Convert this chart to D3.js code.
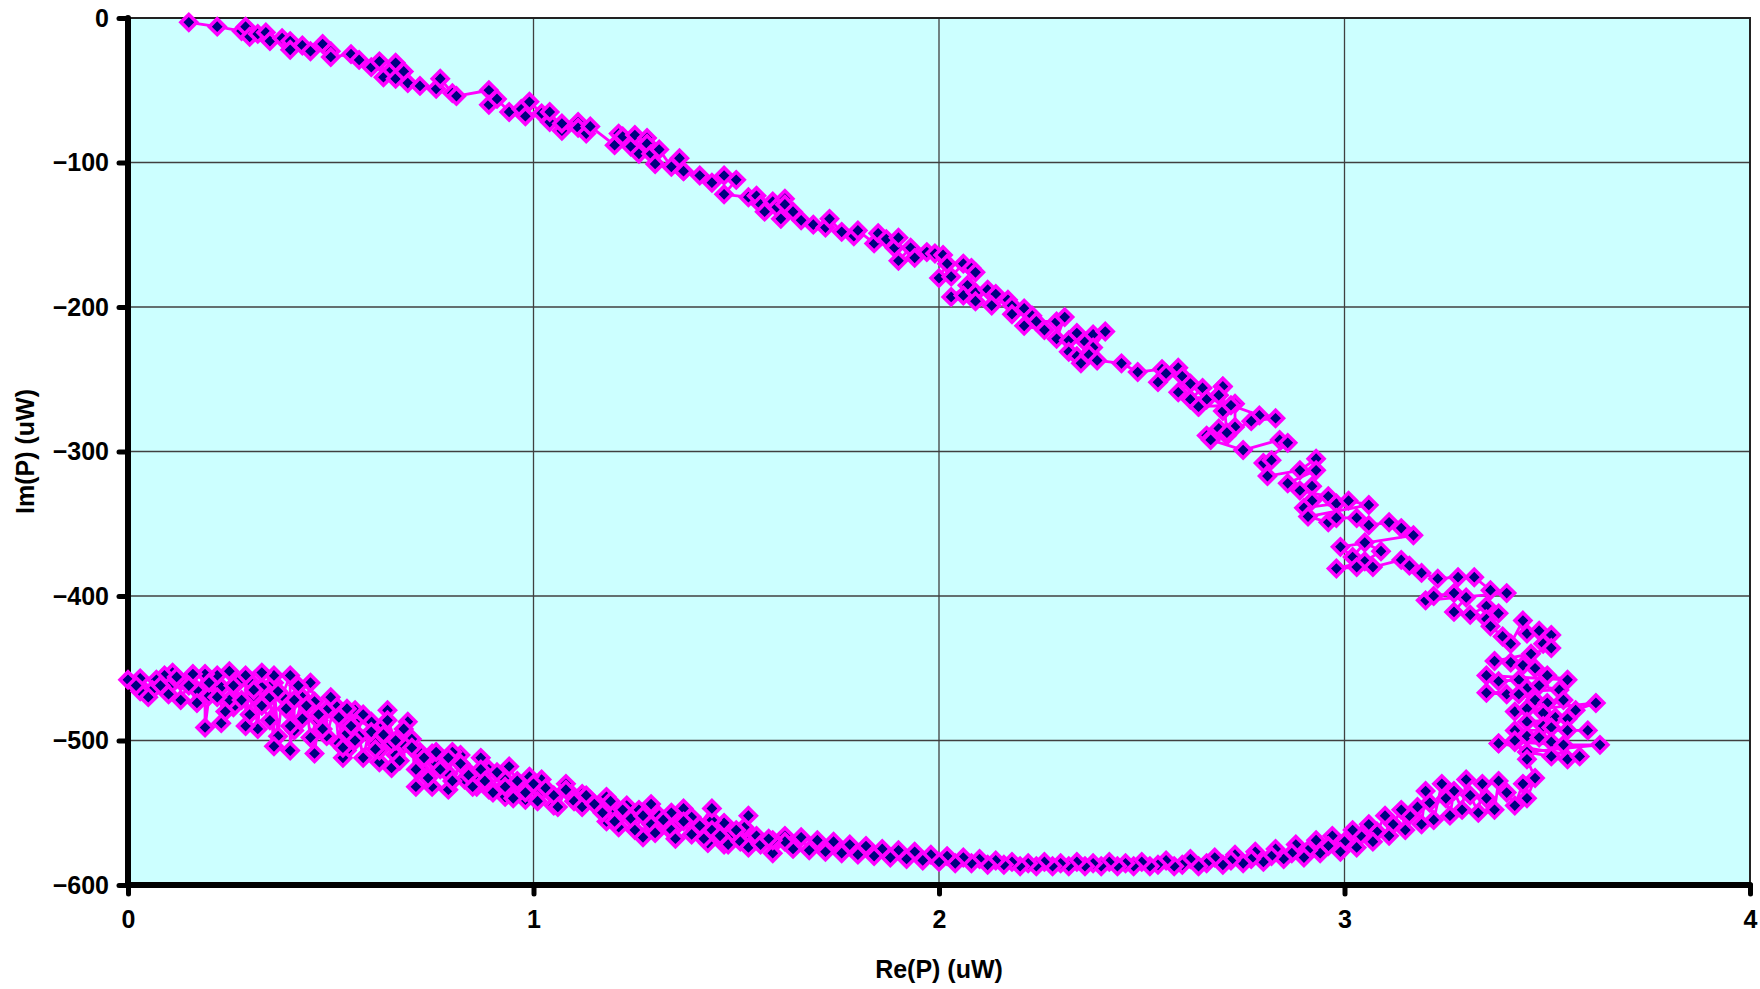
<!DOCTYPE html>
<html><head><meta charset="utf-8">
<script src="https://cdn.jsdelivr.net/npm/d3@7"></script>
<style>html,body{margin:0;padding:0;background:#fff;}svg{display:block;}</style>
</head><body>
<svg id="c" width="1760" height="989"></svg>
<script>
// ---- data ----
const xTicks = [0, 1, 2, 3, 4];
const yTicks = [0, -100, -200, -300, -400, -500, -600];
const xTitle = "Re(P) (uW)";
const yTitle = "Im(P) (uW)";

// upper branch, part 1
const reA = [0.15,0.22,0.28,0.29,0.30,0.32,0.34,0.35,0.38,0.40,0.40,0.43,0.45,0.48,0.50,0.50,0.55,0.57,0.60,0.62,0.63,0.65,0.66,0.66,0.68,0.69,0.72,0.76,0.77,0.80,0.81,0.89,0.89,0.91,0.94,0.97,0.98,0.99,1.02,1.04,1.04,1.07,1.07,1.11,1.11,1.13,1.14,1.20,1.21,1.22,1.24,1.25,1.26,1.28,1.28,1.29,1.30,1.31,1.34,1.36,1.37];
const imA = [-3,-6,-9,-6,-13,-11,-10,-16,-14,-16,-22,-19,-23,-18,-23,-27,-25,-29,-34,-30,-41,-36,-31,-42,-37,-45,-47,-49,-42,-52,-54,-50,-60,-56,-65,-63,-68,-58,-66,-72,-65,-78,-73,-72,-76,-80,-75,-88,-80,-82,-89,-81,-94,-83,-87,-94,-101,-91,-103,-97,-106];

// upper branch, part 2
const reB = [1.37,1.41,1.44,1.47,1.50,1.47,1.53,1.55,1.56,1.57,1.59,1.60,1.62,1.62,1.61,1.64,1.66,1.69,1.72,1.73,1.76,1.79,1.80,1.84,1.85,1.87,1.89,1.90,1.90,1.93,1.94,1.97,1.99,2.01,2.02,2.00,2.03,2.06,2.08,2.09,2.07,2.03,2.06,2.09,2.09,2.12,2.14,2.13,2.17,2.18,2.18,2.21,2.23,2.21,2.26,2.24,2.29,2.31,2.29,2.32,2.34,2.32,2.34,2.35,2.36,2.38,2.41,2.38,2.37,2.39,2.45,2.49,2.55,2.56,2.54,2.59,2.60,2.59,2.62,2.65,2.62,2.64,2.66,2.69,2.70,2.70,2.73,2.73,2.69,2.66,2.67,2.71];
const imB = [-106,-109,-114,-109,-112,-122,-124,-123,-129,-134,-127,-131,-125,-129,-139,-134,-140,-143,-145,-139,-148,-151,-147,-156,-149,-153,-159,-152,-168,-159,-166,-162,-163,-164,-170,-180,-179,-170,-173,-176,-185,-193,-192,-190,-196,-188,-191,-199,-195,-199,-205,-201,-206,-213,-216,-210,-210,-207,-222,-223,-218,-231,-234,-239,-224,-219,-217,-228,-233,-237,-239,-245,-243,-246,-252,-242,-248,-259,-253,-256,-264,-269,-264,-261,-255,-272,-267,-283,-284,-289,-291,-289];

// right lobe
const reC = [2.70,2.69,2.64,2.72,2.79,2.83,2.77,2.71,2.67,2.75,2.84,2.86,2.80,2.82,2.81,2.89,2.93,2.93,2.86,2.92,2.89,2.96,2.92,2.90,2.98,3.01,3.06,2.91,2.96,2.98,3.03,3.06,3.11,3.14,3.17,2.99,3.02,3.05,3.09,3.05,2.98,3.03,3.07,3.14,3.16,3.19,3.23,3.28,3.32,3.36,3.40,3.20,3.22,3.27,3.30,3.27,3.31,3.35,3.35,3.38,3.36,3.39,3.41,3.44,3.45,3.48,3.51,3.49,3.51,3.46,3.37,3.41,3.44,3.47,3.50,3.55,3.35,3.38,3.43,3.45,3.48,3.53,3.35,3.40,3.43,3.47,3.50,3.54,3.57,3.62,3.42,3.45,3.49,3.52,3.55,3.45,3.49,3.51,3.55,3.60,3.42,3.45,3.48,3.51,3.38,3.42,3.54,3.63,3.45,3.51,3.55,3.58];
const imC = [-255,-261,-269,-268,-275,-277,-279,-287,-292,-299,-292,-294,-308,-306,-317,-313,-305,-313,-322,-324,-327,-331,-334,-339,-336,-334,-337,-345,-349,-346,-346,-351,-349,-353,-358,-366,-373,-363,-369,-376,-381,-380,-380,-375,-379,-384,-388,-387,-387,-396,-398,-403,-400,-398,-401,-411,-413,-407,-416,-412,-421,-428,-433,-417,-426,-424,-427,-433,-436,-440,-445,-446,-448,-450,-455,-458,-455,-459,-458,-464,-462,-465,-467,-468,-468,-472,-474,-472,-479,-474,-480,-478,-481,-484,-485,-487,-490,-491,-493,-493,-493,-497,-498,-501,-502,-501,-503,-503,-508,-511,-513,-511];

// bottom arc
const reD = [3.38,3.42,3.45,3.47,3.45,3.44,3.42,3.40,3.38,3.37,3.35,3.34,3.33,3.31,3.30,3.29,3.27,3.26,3.25,3.24,3.22,3.21,3.20,3.19,3.18,3.16,3.15,3.14,3.12,3.11,3.10,3.08,3.07,3.06,3.04,3.03,3.02,3.00,2.99,2.97,2.96,2.94,2.93,2.91,2.90,2.88,2.87,2.85,2.83,2.82,2.80,2.78,2.77,2.75,2.73,2.72,2.70,2.68,2.66,2.64,2.62,2.60,2.58,2.56,2.54,2.52,2.50,2.48,2.46,2.44,2.42,2.40,2.38,2.36,2.34,2.32,2.30,2.28,2.26,2.24,2.22,2.20,2.18,2.16,2.14,2.12,2.10,2.08,2.06,2.04,2.02,2.00,1.98,1.96,1.94,1.92,1.90,1.88,1.86,1.84,1.82,1.80,1.78,1.76,1.74,1.72,1.70,1.68,1.66,1.64,1.62];
const imD = [-502,-500,-513,-526,-540,-530,-545,-536,-528,-548,-540,-530,-550,-538,-527,-548,-535,-552,-540,-530,-555,-543,-535,-558,-546,-552,-562,-548,-558,-566,-552,-563,-570,-558,-566,-574,-562,-570,-577,-566,-573,-578,-569,-576,-581,-572,-578,-582,-575,-580,-584,-577,-582,-585,-579,-583,-586,-581,-585,-587,-582,-586,-587,-583,-586,-587,-584,-587,-585,-587,-584,-587,-585,-587,-584,-587,-585,-587,-584,-587,-585,-587,-584,-586,-583,-586,-582,-585,-581,-585,-580,-584,-579,-583,-577,-582,-576,-581,-575,-580,-573,-579,-572,-578,-570,-577,-569,-576,-567,-575,-566];

// lower-left cluster, going left
const reE = [1.59,1.62,1.59,1.54,1.52,1.53,1.49,1.47,1.47,1.43,1.44,1.44,1.40,1.39,1.37,1.36,1.33,1.34,1.31,1.27,1.29,1.26,1.23,1.21,1.20,1.18,1.18,1.14,1.12,1.09,1.08,1.05,1.02,1.02,0.99,0.98,0.97,0.94,0.93,0.93,0.89,0.89,0.87,0.86,0.86,0.83,0.83,0.82,0.80,0.79,0.79,0.76,0.75,0.75,0.72,0.72,0.71,0.70,0.69,0.68,0.66,0.65,0.65,0.64,0.63,0.62,0.62,0.61,0.60,0.58,0.57,0.57,0.56,0.54,0.54,0.54,0.54,0.53,0.52,0.51,0.49,0.49,0.47,0.46,0.46,0.45,0.43,0.43,0.41,0.41,0.40,0.40,0.38,0.37,0.36,0.36,0.36,0.35,0.33,0.33,0.32,0.31,0.30,0.29,0.29,0.27,0.26,0.25,0.25,0.23,0.23,0.22,0.20,0.19,0.19,0.17,0.16,0.13,0.13,0.11,0.10,0.09,0.07,0.06,0.03,0.03,0.00];
const imE = [-578,-570,-569,-567,-560,-552,-564,-572,-557,-571,-555,-547,-562,-553,-547,-557,-560,-550,-552,-567,-544,-548,-545,-560,-550,-556,-539,-541,-537,-536,-530,-545,-535,-527,-525,-541,-534,-518,-539,-527,-534,-520,-512,-532,-525,-527,-519,-510,-508,-534,-523,-516,-532,-509,-508,-519,-532,-499,-487,-503,-510,-502,-519,-479,-489,-515,-507,-502,-487,-512,-497,-484,-479,-507,-488,-495,-478,-512,-502,-475,-497,-479,-486,-509,-473,-460,-485,-470,-493,-472,-507,-455,-469,-497,-460,-455,-504,-470,-463,-453,-492,-469,-459,-490,-455,-460,-477,-452,-472,-488,-463,-455,-469,-491,-454,-465,-454,-472,-459,-453,-463,-455,-458,-465,-457,-466,-458];

// lower-left cluster, going right again
const reF = [0.02,0.05,0.08,0.10,0.12,0.15,0.17,0.20,0.22,0.24,0.26,0.28,0.30,0.31,0.33,0.35,0.37,0.39,0.40,0.42,0.44,0.45,0.47,0.48,0.50,0.52,0.53,0.55,0.56,0.58,0.60,0.61,0.63,0.64,0.66,0.67,0.68,0.70,0.71,0.73,0.74,0.76,0.77,0.79,0.80,0.82,0.84,0.85,0.87,0.88,0.90,0.91,0.93,0.95,0.96,0.98,1.00,1.01,1.03,1.05,1.06,1.08,1.10,1.12,1.13,1.15,1.17,1.19,1.20,1.22,1.24,1.25,1.27,1.29,1.30,1.32,1.34,1.35,1.37,1.39,1.41,1.42,1.44,1.46,1.48,1.50,1.51,1.53,1.55,1.56,1.58];
const imF = [-462,-470,-462,-468,-456,-462,-474,-460,-470,-480,-462,-472,-482,-465,-476,-486,-466,-478,-490,-462,-476,-498,-482,-492,-470,-484,-505,-490,-500,-482,-494,-506,-496,-486,-500,-514,-492,-505,-520,-512,-526,-508,-520,-512,-528,-516,-524,-532,-520,-528,-536,-522,-532,-540,-528,-536,-530,-542,-533,-538,-546,-534,-542,-546,-538,-544,-550,-542,-556,-548,-554,-562,-552,-558,-564,-555,-562,-568,-556,-565,-559,-568,-562,-566,-572,-562,-570,-574,-566,-572,-568];

// ---- build the series ----
const segs = [[reA, imA], [reB, imB], [reC, imC], [reD, imD], [reE, imE], [reF, imF]];
const pts = [];
segs.forEach(([rx, iy]) => {
  const n = Math.min(rx.length, iy.length);
  for (let i = 0; i < n; i++) pts.push({ re: rx[i], im: iy[i] });
});

// ---- layout ----
const svg = d3.select("#c");
const L = 128, R = 1750, T = 18, B = 885;
const x = d3.scaleLinear().domain([0, 4]).range([L, R]);
const y = d3.scaleLinear().domain([-600, 0]).range([B, T]);
const font = "'Liberation Sans', Arial, sans-serif";

svg.append("rect").attr("x", L).attr("y", T).attr("width", R - L).attr("height", B - T).attr("fill", "#CCFFFF");

// gridlines
svg.append("g").selectAll("line").data(yTicks.filter(v => v > -600 && v < 0)).join("line")
  .attr("x1", L).attr("x2", R).attr("y1", d => y(d)).attr("y2", d => y(d))
  .attr("stroke", "#404040").attr("stroke-width", 1.3);
svg.append("g").selectAll("line").data(xTicks.filter(v => v > 0 && v < 4)).join("line")
  .attr("y1", T).attr("y2", B).attr("x1", d => x(d)).attr("x2", d => x(d))
  .attr("stroke", "#404040").attr("stroke-width", 1.3);

// top & right border
svg.append("path").attr("d", `M${L},${T}H${R}V${B}`).attr("fill", "none").attr("stroke", "#222").attr("stroke-width", 2);

// axes (thick)
const yAxis = d3.axisLeft(y).tickValues(yTicks).tickSize(9).tickPadding(10).tickFormat(d3.format("d"));
const xAxis = d3.axisBottom(x).tickValues(xTicks).tickSize(9).tickPadding(16).tickFormat(d3.format("d"));
const gy = svg.append("g").attr("transform", `translate(${L},0)`).call(yAxis);
const gx = svg.append("g").attr("transform", `translate(0,${B})`).call(xAxis);
[gx, gy].forEach(g => {
  g.select(".domain").attr("stroke", "#000").attr("stroke-width", 6).attr("stroke-linecap", "round");
  g.selectAll(".tick line").attr("stroke", "#000").attr("stroke-width", 5).attr("stroke-linecap", "round");
  g.selectAll(".tick text").attr("fill", "#000").attr("font-family", font).attr("font-weight", "bold").attr("font-size", 25);
});
gy.select(".domain").attr("d", `M0,${T}V${B}`);
gx.select(".domain").attr("d", `M${L},0H${R}`);
gx.selectAll(".tick text").attr("dy", "0.71em");

// line
const line = d3.line().x(d => x(d.re)).y(d => y(d.im));
svg.append("path").datum(pts).attr("d", line).attr("fill", "none")
  .attr("stroke", "#FF00FF").attr("stroke-width", 2.8).attr("stroke-linejoin", "round");

// markers
const sym = d3.symbol().type(d3.symbolSquare).size(125);
svg.append("g").selectAll("path").data(pts).join("path")
  .attr("d", sym)
  .attr("transform", d => `translate(${x(d.re)},${y(d.im)}) rotate(45)`)
  .attr("fill", "#000080").attr("stroke", "#FF00FF").attr("stroke-width", 3.6);

// titles
svg.append("text").attr("x", (L + R) / 2).attr("y", 978).attr("text-anchor", "middle")
  .attr("font-family", font).attr("font-weight", "bold").attr("font-size", 25).text(xTitle);
svg.append("text").attr("transform", `translate(34,${(T + B) / 2}) rotate(-90)`).attr("text-anchor", "middle")
  .attr("font-family", font).attr("font-weight", "bold").attr("font-size", 25).text(yTitle);
</script>
</body></html>
